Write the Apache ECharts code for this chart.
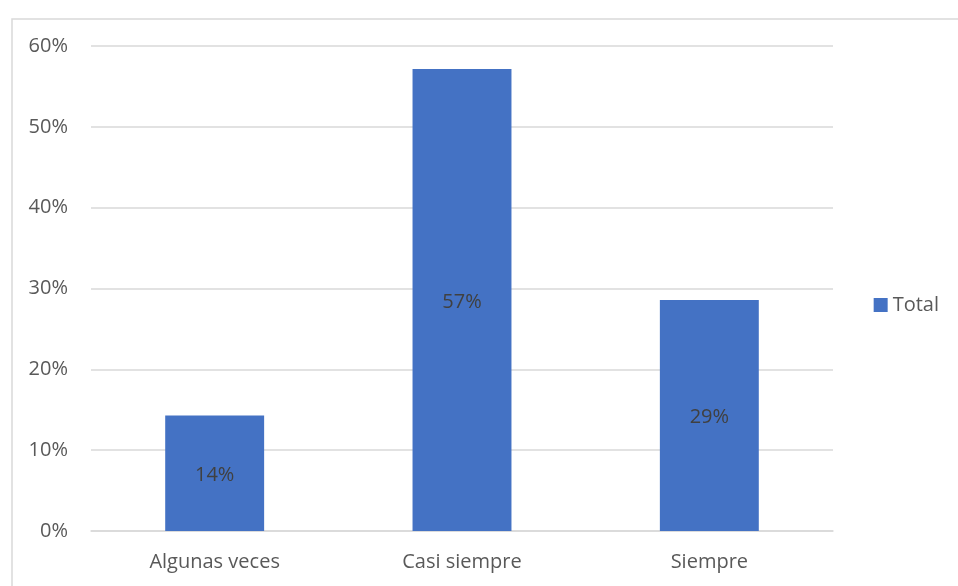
<!DOCTYPE html>
<html><head><meta charset="utf-8">
<script src="https://cdn.jsdelivr.net/npm/echarts@6/dist/echarts.min.js"></script>
<style>html,body{margin:0;padding:0;background:#fff}#c{width:958px;height:586px}</style>
</head><body><div id="c"></div>
<script>
const categories = ['Algunas veces', 'Casi siempre', 'Siempre'];
const totalValues = [0.1429, 0.5714, 0.2857];
const yTicks = [0, 0.1, 0.2, 0.3, 0.4, 0.5, 0.6];
const seriesName = 'Total';

const chart = echarts.init(document.getElementById('c'), null, {renderer: 'canvas'});
const font = '"Open Sans", sans-serif';
chart.setOption({
  animation: false,
  backgroundColor: '#fff',
  graphic: [{
    type: 'rect', left: 9.5, top: 16.5,
    shape: {x: 0, y: 0, width: 1200, height: 900},
    style: {fill: 'none', stroke: '#d9d9d9', lineWidth: 1.5},
    silent: true
  }],
  grid: {left: 91, right: 125, top: 46, height: 485, containLabel: false},
  legend: {
    data: [seriesName], right: 14, top: 290, orient: 'vertical',
    icon: 'rect', itemWidth: 14, itemHeight: 14, itemGap: 6,
    textStyle: {color: '#595959', fontSize: 20, fontFamily: font}
  },
  xAxis: {
    type: 'category', data: categories,
    axisLine: {lineStyle: {color: '#d9d9d9', width: 1.5}},
    axisTick: {show: false},
    axisLabel: {color: '#595959', fontSize: 20, fontFamily: font, margin: 21}
  },
  yAxis: {
    type: 'value', min: yTicks[0], max: yTicks[yTicks.length - 1], interval: 0.1,
    axisLine: {show: false}, axisTick: {show: false},
    splitLine: {lineStyle: {color: '#d9d9d9', width: 1.5}},
    axisLabel: {color: '#595959', fontSize: 20, fontFamily: font, margin: 23,
      formatter: v => Math.round(v * 100) + '%'}
  },
  series: [{
    name: seriesName, type: 'bar', data: totalValues, barWidth: '40%',
    itemStyle: {color: '#4472C4'},
    label: {show: true, position: 'inside', offset: [0, 2], color: '#404040', fontSize: 20, fontFamily: font,
      formatter: p => Math.round(p.value * 100) + '%'}
  }]
});
</script></body></html>
